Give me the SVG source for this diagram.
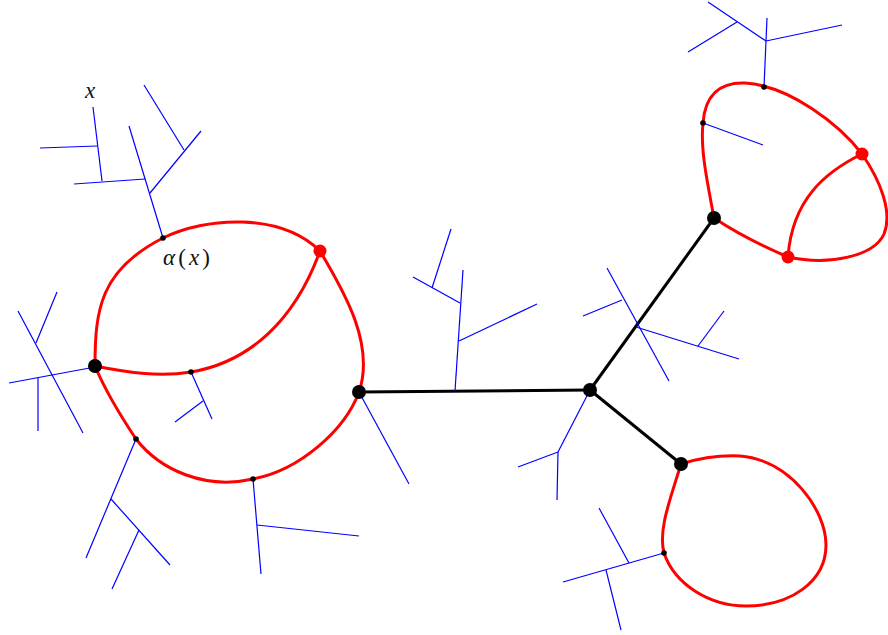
<svg xmlns="http://www.w3.org/2000/svg" width="888" height="635" viewBox="0 0 888 635">
<style>
.red{fill:none;stroke:#ff0000;stroke-width:3;stroke-linecap:round}
.blk{fill:none;stroke:#000;stroke-width:3}
.blu{fill:none;stroke:#0000ff;stroke-width:1.2}
.bn{fill:#000}
.rn{fill:#ff0000}
.lbl{font-family:"Liberation Serif","DejaVu Serif",serif;font-size:23px;fill:#111}
</style>
<rect width="888" height="635" fill="#fff"/>
<g id="connectors">
  <g id="red-curves">
    <path class="red" d="M95,366 C95,310 100,270 163,238 C205,217 280,212 320,251"/>
    <path class="red" d="M320,251 C345,293 375,345 359,392 C345,430 300,470 253,479 C205,490 160,470 136,439 C120,415 105,390 95,366"/>
    <path class="red" d="M95,366 C130,373 160,377 191,372 C250,362 295,320 320,251"/>
    <path class="red" d="M681,464 C700,458 718,455 740,456 C790,460 826,510 826,545 C826,582 790,606 746,606 C710,606 675,585 664,553 C658,530 670,500 681,464"/>
    <path class="red" d="M714,218 C708,185 700,150 703,123 C705,95 720,82 745,83 C790,86 840,125 862,154 C880,180 893,212 884,234 C874,256 830,266 788,257 C760,245 735,232 714,218"/>
    <path class="red" d="M862,154 C825,172 792,200 788,257"/>
  </g>
  <g id="black-edges">
    <line class="blk" x1="359" y1="392" x2="590" y2="390"/>
    <line class="blk" x1="590" y1="390" x2="714" y2="218"/>
    <line class="blk" x1="590" y1="390" x2="681" y2="464"/>
  </g>
  <g id="blue-trees">
    <line class="blu" x1="93" y1="107" x2="102" y2="181"/>
    <line class="blu" x1="97" y1="146" x2="40" y2="148"/>
    <line class="blu" x1="74" y1="184" x2="145" y2="179"/>
    <line class="blu" x1="129" y1="126" x2="163" y2="238"/>
    <line class="blu" x1="150" y1="193" x2="201" y2="131"/>
    <line class="blu" x1="144" y1="85" x2="184" y2="150"/>

    <line class="blu" x1="95" y1="367" x2="9" y2="383"/>
    <line class="blu" x1="38" y1="378" x2="38" y2="431"/>
    <line class="blu" x1="18" y1="311" x2="83" y2="433"/>
    <line class="blu" x1="36" y1="343" x2="57" y2="292"/>

    <line class="blu" x1="191" y1="372" x2="212" y2="419"/>
    <line class="blu" x1="203" y1="401" x2="175" y2="422"/>

    <line class="blu" x1="359" y1="392" x2="409" y2="484"/>

    <line class="blu" x1="136" y1="439" x2="86" y2="558"/>
    <line class="blu" x1="111" y1="499" x2="170" y2="565"/>
    <line class="blu" x1="139" y1="530" x2="112" y2="589"/>

    <line class="blu" x1="253" y1="479" x2="261" y2="574"/>
    <line class="blu" x1="257" y1="525" x2="359" y2="536"/>

    <line class="blu" x1="455" y1="391" x2="463" y2="270"/>
    <line class="blu" x1="459" y1="341" x2="537" y2="304"/>
    <line class="blu" x1="460" y1="303" x2="413" y2="277"/>
    <line class="blu" x1="432" y1="288" x2="451" y2="229"/>

    <line class="blu" x1="590" y1="390" x2="558" y2="452"/>
    <line class="blu" x1="558" y1="452" x2="518" y2="467"/>
    <line class="blu" x1="558" y1="452" x2="557" y2="500"/>

    <line class="blu" x1="607" y1="268" x2="669" y2="381"/>
    <line class="blu" x1="622" y1="300" x2="583" y2="316"/>
    <line class="blu" x1="636" y1="327" x2="739" y2="359"/>
    <line class="blu" x1="698" y1="346" x2="724" y2="311"/>

    <line class="blu" x1="664" y1="553" x2="563" y2="582"/>
    <line class="blu" x1="629" y1="563" x2="599" y2="508"/>
    <line class="blu" x1="606" y1="570" x2="621" y2="630"/>

    <line class="blu" x1="764" y1="87" x2="767" y2="18"/>
    <line class="blu" x1="766" y1="41" x2="842" y2="25"/>
    <line class="blu" x1="766" y1="41" x2="708" y2="2"/>
    <line class="blu" x1="737" y1="22" x2="688" y2="52"/>
    <line class="blu" x1="703" y1="123" x2="763" y2="145"/>
  </g>
</g>
<g id="node-left"><circle class="bn" cx="95" cy="366" r="7"/></g>
<g id="node-red-top"><circle class="rn" cx="320" cy="251" r="6.5"/></g>
<g id="node-right"><circle class="bn" cx="359" cy="392" r="7"/></g>
<g id="node-center"><circle class="bn" cx="590" cy="390" r="7"/></g>
<g id="node-upper"><circle class="bn" cx="714" cy="218" r="7"/></g>
<g id="node-lower"><circle class="bn" cx="681" cy="464" r="7"/></g>
<g id="node-red-tr1"><circle class="rn" cx="862" cy="154" r="6.5"/></g>
<g id="node-red-tr2"><circle class="rn" cx="788" cy="257" r="6.5"/></g>
<g id="dots">
  <circle class="bn" cx="163" cy="238" r="2.8"/>
  <circle class="bn" cx="191" cy="372" r="2.8"/>
  <circle class="bn" cx="136" cy="439" r="2.8"/>
  <circle class="bn" cx="253" cy="479" r="2.8"/>
  <circle class="bn" cx="664" cy="553" r="2.8"/>
  <circle class="bn" cx="764" cy="87" r="2.8"/>
  <circle class="bn" cx="703" cy="123" r="2.8"/>
</g>
<g id="labels">
  <text class="lbl" x="85" y="98" font-style="italic" font-size="25">x</text>
  <text class="lbl" x="163" y="265" textLength="47" lengthAdjust="spacing"><tspan font-style="italic">α</tspan>(<tspan font-style="italic">x</tspan>)</text>
</g>
</svg>
